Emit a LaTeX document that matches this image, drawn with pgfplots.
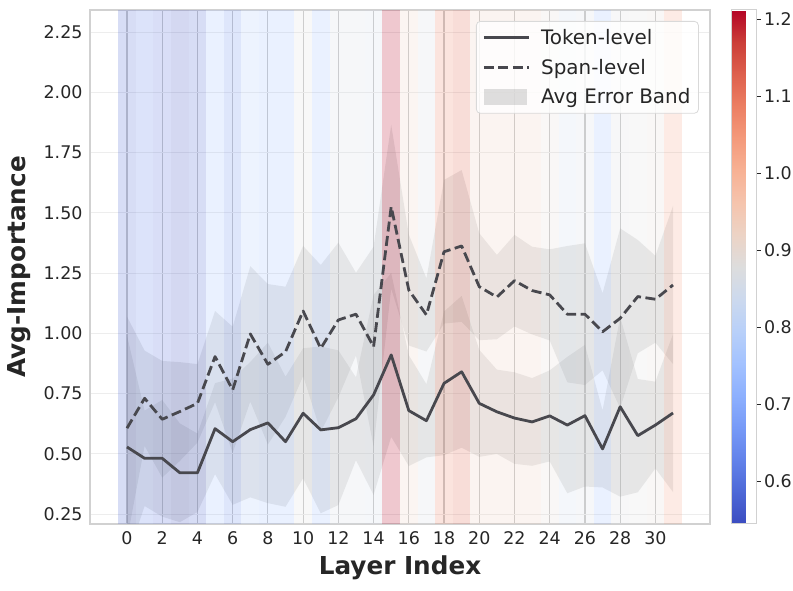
\documentclass[border=0pt]{standalone}
\usepackage{fontspec}
\setmainfont{DejaVu Sans}
\usepackage{pgfplots}
\usepackage{pgfplotstable}
\pgfplotsset{compat=1.18}
\usepgfplotslibrary{fillbetween}
\pgfkeys{/pgf/number format/assume math mode=true}

\definecolor{linec}{RGB}{72,72,78}
\definecolor{tickc}{RGB}{38,38,38}

\pgfplotsset{
 colormap={coolwarm}{
  rgb255(0)=(59,76,192) rgb255(1)=(77,104,215) rgb255(2)=(98,130,234) rgb255(3)=(119,154,247)
  rgb255(4)=(141,176,254) rgb255(5)=(163,194,255) rgb255(6)=(184,208,249) rgb255(7)=(204,217,238)
  rgb255(8)=(221,221,221) rgb255(9)=(236,211,197) rgb255(10)=(245,196,173) rgb255(11)=(247,177,148)
  rgb255(12)=(244,154,123) rgb255(13)=(236,127,99) rgb255(14)=(222,96,77) rgb255(15)=(203,62,56)
  rgb255(16)=(180,4,38)
 }
}

% one layer wide (620bp / 35.2 units), full axis height
\pgfdeclareplotmark{vband}{%
  \pgfpathrectangle{\pgfpoint{-8.807bp}{-257bp}}{\pgfpoint{17.614bp}{514bp}}%
  \pgfusepathqfill}

\pgfplotstableread{
x tok span err c
0 0.528 0.606 0.463 0.578
1 0.481 0.730 0.198 0.625
2 0.481 0.643 0.242 0.592
3 0.421 0.675 0.205 0.545
4 0.421 0.709 0.163 0.578
5 0.604 0.903 0.189 0.745
6 0.550 0.765 0.262 0.645
7 0.600 0.997 0.281 0.778
8 0.628 0.871 0.333 0.745
9 0.550 0.923 0.270 0.745
10 0.668 1.092 0.270 0.878
11 0.599 0.937 0.346 0.745
12 0.608 1.055 0.321 0.858
13 0.645 1.079 0.172 0.858
14 0.744 0.944 0.415 0.852
15 0.910 1.525 0.340 1.212
16 0.679 1.179 0.230 0.918
17 0.637 1.076 0.152 0.865
18 0.792 1.338 0.298 1.079
19 0.840 1.362 0.315 1.125
20 0.709 1.193 0.222 0.932
21 0.674 1.150 0.175 0.932
22 0.648 1.218 0.190 0.932
23 0.632 1.177 0.182 0.932
24 0.657 1.159 0.189 0.892
25 0.619 1.079 0.283 0.845
26 0.658 1.079 0.294 0.865
27 0.520 1.006 0.160 0.745
28 0.695 1.062 0.373 0.872
29 0.575 1.152 0.235 0.878
30 0.619 1.141 0.180 0.892
31 0.669 1.200 0.328 1.025
}\datatab

\begin{document}
\begin{tikzpicture}
\begin{axis}[
  scale only axis, width=620bp, height=514bp,
  xmin=-2.1, xmax=33.1, ymin=0.2085, ymax=2.341,
  enlargelimits=false,
  clip marker paths=true,
  colormap name=coolwarm,
  point meta min=0.545, point meta max=1.212,
  xtick={0,2,...,30},
  ytick={0.25,0.5,0.75,1,1.25,1.5,1.75,2,2.25},
  yticklabel style={/pgf/number format/fixed, /pgf/number format/fixed zerofill, /pgf/number format/precision=2, xshift=-4bp},
  major tick length=0pt,
  tick label style={font=\fontsize{17.5}{21}\selectfont, text=tickc},
  xticklabel style={yshift=-4bp},
  xmajorgrids, ymajorgrids,
  x grid style={draw=black!21, line width=1.2bp},
  y grid style={draw=black!7, line width=0.6bp},
  axis line style={draw=black!18, line width=1.2bp},
  xlabel={Layer Index}, ylabel={Avg-Importance},
  label style={font=\fontsize{24.8}{28}\selectfont\bfseries, text=tickc},
  xlabel shift=4bp, ylabel shift=6bp,
  colorbar,
  colorbar style={
    at={(parent axis.north east)}, anchor=north west, xshift=13bp,
    width=25bp,
    axis line style={draw=black!18, line width=1bp},
    ytick={0.6,0.7,0.8,0.9,1.0,1.1,1.2},
    yticklabel style={/pgf/number format/fixed, /pgf/number format/fixed zerofill, /pgf/number format/precision=1},
    tick label style={font=\fontsize{17.5}{21}\selectfont, text=tickc},
    major tick length=4bp, tick align=outside, ytick pos=right,
    ytick style={draw=tickc, line width=0.8bp},
  },
  legend style={at={(0.982,0.9786)}, anchor=north east, draw=black!15, line width=0.8bp,
    rounded corners=4bp, fill=white, fill opacity=0.8, draw opacity=1, text opacity=1,
    font=\fontsize{20}{24}\selectfont, text=tickc, row sep=9bp, inner xsep=6bp, inner ysep=6bp,
    /tikz/every odd column/.append style={column sep=9bp}},
  legend cell align=left,
  legend image code/.code={\draw[#1, sharp corners] (0bp,0bp) -- (45bp,0bp);},
]
\coordinate (sw) at (rel axis cs:0,0);
\addplot[scatter, only marks, mark=vband, point meta=explicit,
  scatter/use mapped color={draw=none, fill=mapped color, fill opacity=0.22}, forget plot]
  table[x=x, y expr=1.27475, meta=c]{\datatab};
\addplot[name path=tu, draw=none, forget plot] table[x=x, y expr=\thisrow{tok}+\thisrow{err}]{\datatab};
\addplot[name path=tl, draw=none, forget plot] table[x=x, y expr=\thisrow{tok}-\thisrow{err}]{\datatab};
\addplot[name path=su, draw=none, forget plot] table[x=x, y expr=\thisrow{span}+\thisrow{err}]{\datatab};
\addplot[name path=sl, draw=none, forget plot] table[x=x, y expr=\thisrow{span}-\thisrow{err}]{\datatab};
\addplot[fill=gray, fill opacity=0.17, draw=none, forget plot] fill between[of=tu and tl];
\addplot[fill=gray, fill opacity=0.17, draw=none, forget plot] fill between[of=su and sl];
\addplot[linec, line width=2.8bp, line join=round] table[x=x, y=tok]{\datatab};
\addlegendentry{Token-level}
\addplot[linec, line width=2.8bp, line join=round, dash pattern=on 10bp off 4.5bp] table[x=x, y=span]{\datatab};
\addlegendentry{Span-level}
\addlegendimage{legend image code/.code={\fill[gray, fill opacity=0.25, draw=none, sharp corners] (0bp,-8bp) rectangle (43bp,8bp);}}
\addlegendentry{Avg Error Band}
\end{axis}
\pgfresetboundingbox
\path (sw) ++(-90bp,-67bp) rectangle ++(793bp,591bp);
\end{tikzpicture}
\end{document}
